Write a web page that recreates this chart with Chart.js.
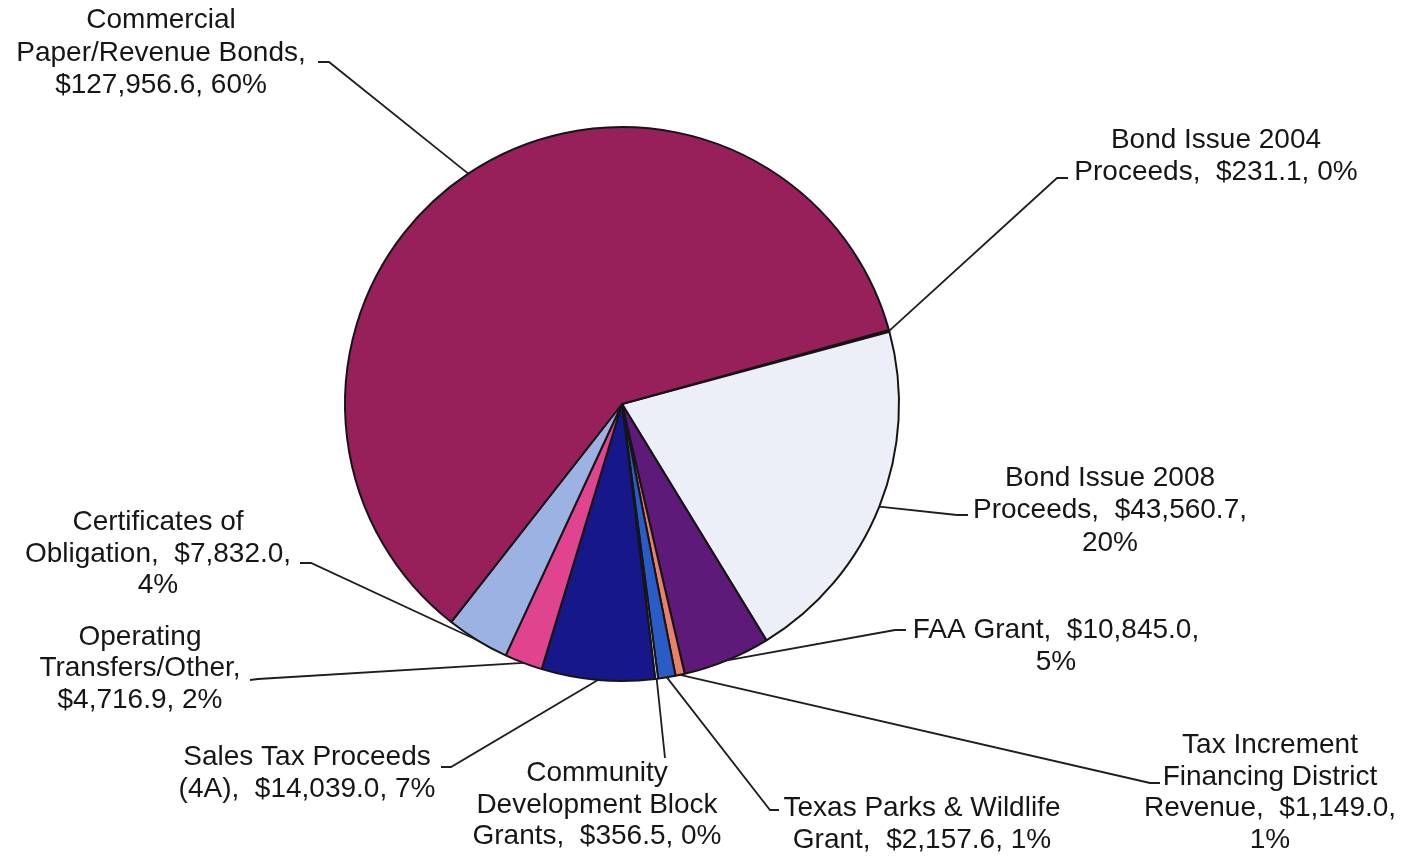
<!DOCTYPE html>
<html>
<head>
<meta charset="utf-8">
<script src="https://cdn.jsdelivr.net/npm/chart.js@4/dist/chart.umd.min.js"></script>
<style>
  body { margin: 0; background: #fff; }
</style>
</head>
<body>
<canvas id="pie" width="1415" height="857"></canvas>
<script>
// slice order as it runs clockwise from the 2004 bond sliver
const categories = [
  'Bond Issue 2004 Proceeds',
  'Bond Issue 2008 Proceeds',
  'FAA Grant',
  'Tax Increment Financing District Revenue',
  'Texas Parks & Wildlife Grant',
  'Community Development Block Grants',
  'Sales Tax Proceeds (4A)',
  'Operating Transfers/Other',
  'Certificates of Obligation',
  'Commercial Paper/Revenue Bonds'
];
const amounts = [231.1, 43560.7, 10845.0, 1149.0, 2157.6, 356.5, 14039.0, 4716.9, 7832.0, 127956.6];
const colors = ['#f2f2f8', '#eceef8', '#5e1a78', '#e8806a', '#2a5cc8', '#f4f4f8', '#16188a', '#e0448e', '#9cb2e2', '#98205a'];

// how each label breaks into lines ({v} = amount, {p} = percent)
const labelLines = [
  ['Bond Issue 2004', 'Proceeds,  {v}, {p}'],
  ['Bond Issue 2008', 'Proceeds,  {v},', '{p}'],
  ['FAA Grant,  {v},', '{p}'],
  ['Tax Increment', 'Financing District', 'Revenue,  {v},', '{p}'],
  ['Texas Parks & Wildlife', 'Grant,  {v}, {p}'],
  ['Community', 'Development Block', 'Grants,  {v}, {p}'],
  ['Sales Tax Proceeds', '(4A),  {v}, {p}'],
  ['Operating', 'Transfers/Other,', '{v}, {p}'],
  ['Certificates of', 'Obligation,  {v},', '{p}'],
  ['Commercial', 'Paper/Revenue Bonds,', '{v}, {p}']
];

// where each label sits and how its leader line bends
const labelPos = [
  { cx: 1216, ys: [140, 172], path: [[1057, 178], [1068, 178]] },
  { cx: 1110, ys: [478, 510, 543], path: [[957, 515], [968, 515]] },
  { cx: 1056, ys: [630, 662], path: [[895, 630], [906, 630]] },
  { cx: 1270, ys: [745, 777, 808, 840], path: [[1150, 783], [1160, 783]] },
  { cx: 922, ys: [808, 840], path: [[770, 810], [779, 810]] },
  { cx: 597, ys: [773, 805, 836], path: [[665, 758]] },
  { cx: 307, ys: [757, 789], path: [[451, 767], [441, 767]] },
  { cx: 140, ys: [637, 668, 700], path: [[258, 679], [250, 680]] },
  { cx: 158, ys: [522, 554, 585], path: [[311, 563], [300, 563]] },
  { cx: 161, ys: [20, 53, 85], path: [[329, 62], [318, 62]] }
];

const total = amounts.reduce((a, b) => a + b, 0);

function fillTemplate(s, i) {
  const v = '$' + amounts[i].toLocaleString('en-US', { minimumFractionDigits: 1, maximumFractionDigits: 1 });
  const p = Math.round(amounts[i] / total * 100) + '%';
  return s.replace('{v}', v).replace('{p}', p);
}

const calloutPlugin = {
  id: 'callouts',
  afterDatasetsDraw(chart) {
    const ctx = chart.ctx;
    const meta = chart.getDatasetMeta(0);
    ctx.save();
    ctx.strokeStyle = '#1e1e1e';
    ctx.lineWidth = 1.8;
    ctx.fillStyle = '#161616';
    ctx.font = '28px "Liberation Sans", Arial, sans-serif';
    ctx.textAlign = 'center';
    ctx.textBaseline = 'middle';
    meta.data.forEach((arc, i) => {
      const { x, y, startAngle, endAngle, outerRadius } =
        arc.getProps(['x', 'y', 'startAngle', 'endAngle', 'outerRadius'], true);
      const mid = (startAngle + endAngle) / 2;
      const pos = labelPos[i];
      ctx.beginPath();
      ctx.moveTo(x + Math.cos(mid) * outerRadius, y + Math.sin(mid) * outerRadius);
      pos.path.forEach(pt => ctx.lineTo(pt[0], pt[1]));
      ctx.stroke();
      labelLines[i].forEach((line, k) => {
        ctx.fillText(fillTemplate(line, i), pos.cx, pos.ys[k]);
      });
    });
    ctx.restore();
  }
};

new Chart(document.getElementById('pie'), {
  type: 'pie',
  data: {
    labels: categories,
    datasets: [{
      data: amounts,
      backgroundColor: colors,
      borderColor: '#151515',
      borderWidth: 2
    }]
  },
  options: {
    responsive: false,
    animation: false,
    rotation: 74.5,
    layout: { padding: { left: 344, right: 515, top: 126, bottom: 175 } },
    plugins: {
      legend: { display: false },
      tooltip: { enabled: false }
    }
  },
  plugins: [calloutPlugin]
});
</script>
</body>
</html>
